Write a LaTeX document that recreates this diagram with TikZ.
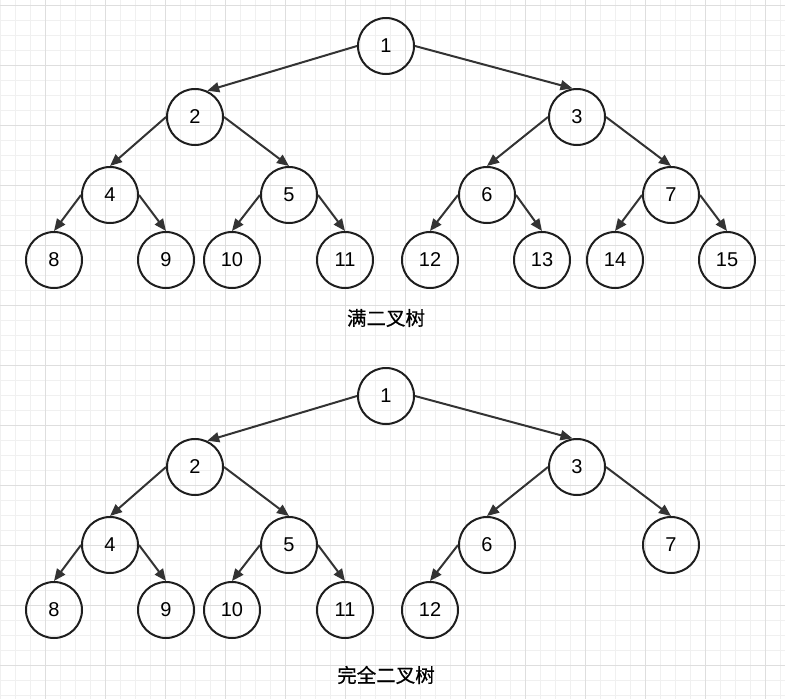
\documentclass[tikz,border=0pt]{standalone}
\usepackage{fontspec}
\setmainfont{Liberation Sans}
\newfontfamily\cjk{Noto Sans CJK SC}[FakeBold=0.6]
\usetikzlibrary{arrows.meta}
\definecolor{gridminor}{HTML}{F0F0F0}
\definecolor{gridmajor}{HTML}{DEDEDE}
\definecolor{edgegray}{HTML}{333333}
\definecolor{nodeline}{HTML}{1E1E1E}

\begin{document}
\begin{tikzpicture}[x=1pt, y=-1pt,
    treenode/.style={draw=nodeline, circle, line width=2pt, minimum size=56pt, inner sep=0pt, font=\fontsize{20}{24}\selectfont},
    link/.style={-{Triangle[length=12pt,width=10pt]}, line width=2pt, color=edgegray},
    caption/.style={font=\cjk\fontsize{19.5}{24}\selectfont}]
  \useasboundingbox (0,0) rectangle (785,699);
  % grid paper
  \foreach \gx in {0,15,...,780} \draw[gridminor, line width=0.8pt] (\gx,0) -- (\gx,699);
  \foreach \gy in {5,20,...,695} \draw[gridminor, line width=0.8pt] (0,\gy) -- (785,\gy);
  \foreach \gx in {45,105,...,765} \draw[gridmajor, line width=0.8pt] (\gx,0) -- (\gx,699);
  \foreach \gy in {5,65,...,665} \draw[gridmajor, line width=0.8pt] (0,\gy) -- (785,\gy);

  % full binary tree
  \node[treenode] (f1) at (386,46) {1};
  \node[treenode] (f2) at (195,117) {2};
  \node[treenode] (f3) at (577,117) {3};
  \node[treenode] (f4) at (110,195) {4};
  \node[treenode] (f5) at (289,195) {5};
  \node[treenode] (f6) at (487,195) {6};
  \node[treenode] (f7) at (671,195) {7};
  \node[treenode] (f8) at (54,260) {8};
  \node[treenode] (f9) at (166,260) {9};
  \node[treenode] (f10) at (232,260) {10};
  \node[treenode] (f11) at (345,260) {11};
  \node[treenode] (f12) at (430,260) {12};
  \node[treenode] (f13) at (542,260) {13};
  \node[treenode] (f14) at (615,260) {14};
  \node[treenode] (f15) at (727,260) {15};
  \node[caption] (fcap) at (386,318) {满二叉树};

  \path[link] (f1.west) edge (f2.65);
  \path[link] (f1.east) edge (f3.99);
  \path[link] (f2.west) edge (f4.north);
  \path[link] (f2.east) edge (f5.north);
  \path[link] (f3.west) edge (f6.north);
  \path[link] (f3.east) edge (f7.north);
  \path[link] (f4.west) edge (f8.north);
  \path[link] (f4.east) edge (f9.north);
  \path[link] (f5.west) edge (f10.north);
  \path[link] (f5.east) edge (f11.north);
  \path[link] (f6.west) edge (f12.north);
  \path[link] (f6.east) edge (f13.north);
  \path[link] (f7.west) edge (f14.north);
  \path[link] (f7.east) edge (f15.north);

  % complete binary tree
  \node[treenode] (c1) at (386,396) {1};
  \node[treenode] (c2) at (195,467) {2};
  \node[treenode] (c3) at (577,467) {3};
  \node[treenode] (c4) at (110,545) {4};
  \node[treenode] (c5) at (289,545) {5};
  \node[treenode] (c6) at (487,545) {6};
  \node[treenode] (c7) at (671,545) {7};
  \node[treenode] (c8) at (54,610) {8};
  \node[treenode] (c9) at (166,610) {9};
  \node[treenode] (c10) at (232,610) {10};
  \node[treenode] (c11) at (345,610) {11};
  \node[treenode] (c12) at (430,610) {12};
  \node[caption] (ccap) at (386,675) {完全二叉树};

  \path[link] (c1.west) edge (c2.65);
  \path[link] (c1.east) edge (c3.99);
  \path[link] (c2.west) edge (c4.north);
  \path[link] (c2.east) edge (c5.north);
  \path[link] (c3.west) edge (c6.north);
  \path[link] (c3.east) edge (c7.north);
  \path[link] (c4.west) edge (c8.north);
  \path[link] (c4.east) edge (c9.north);
  \path[link] (c5.west) edge (c10.north);
  \path[link] (c5.east) edge (c11.north);
  \path[link] (c6.west) edge (c12.north);
\end{tikzpicture}
\end{document}
